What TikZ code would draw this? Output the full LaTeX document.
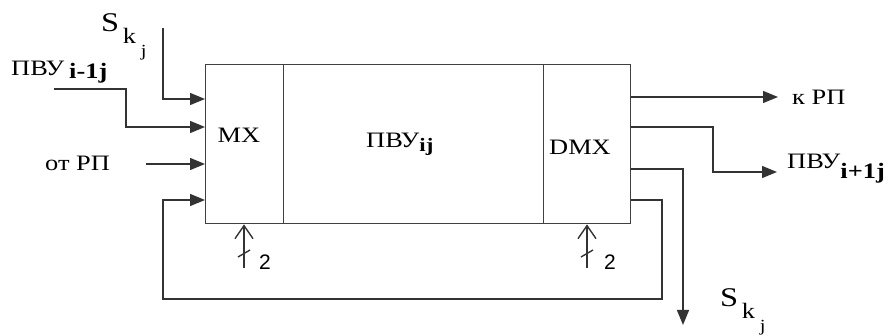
\documentclass[tikz,border=0pt]{standalone}
\usepackage{fontspec}
\setmainfont{Liberation Serif}
\newfontfamily\digitfont{Liberation Sans}
\usepackage{graphicx}
\usetikzlibrary{arrows.meta}

% letters in this scheme are set wide
\newcommand{\wtxt}[1]{\scalebox{1.2}[1]{#1}}
\newcommand{\skjlabel}{\wtxt{\fontsize{27}{27}\selectfont S\hspace{3pt}\raisebox{-12pt}{\fontsize{22}{22}\selectfont k\hspace{4pt}\raisebox{-13pt}{\fontsize{17}{17}\selectfont j}}}}

\begin{document}
\begin{tikzpicture}[x=1pt,y=-1pt,
  wire/.style={line width=1.4pt, draw=black!80},
  arr/.style={wire, -{Triangle[length=15pt,width=12pt]}},
  barb/.style={wire, -{Straight Barb[length=13pt,width=18pt]}},
  blk/.style={draw=black!75, line width=1.4pt, rectangle, inner sep=0pt,
              minimum height=159pt, anchor=north west},
  lbl/.style={inner sep=0pt, font=\fontsize{22}{22}\selectfont, anchor=base west},
  digit/.style={inner sep=0pt, font=\digitfont\fontsize{21}{21}\selectfont, anchor=base west},
]
\useasboundingbox (0,0) rectangle (895,336);

% the three blocks: multiplexer, processing unit, demultiplexer
\node[blk, minimum width=78pt]  (mx)   at (205,64) {};
\node[blk, minimum width=260pt] (core) at (283,64) {};
\node[blk, minimum width=87pt]  (dmx)  at (543,64) {};

\node[lbl, anchor=base] (mxl) at (239,143) {\wtxt{МХ}};
\node[lbl] (corel) at (366,148) {\wtxt{ПВУ\raisebox{-4pt}{\fontsize{19}{19}\selectfont\textbf{ij}}}};
\node[lbl] (dmxl) at (549,155) {\wtxt{DMX}};

% inputs of the multiplexer
\coordinate (skin) at (163,28);
\draw[arr] (skin) |- (mx.west |- 0,99);
\node[lbl] (sktop) at (101,32) {\skjlabel};

\coordinate (pvuin) at (54,89);
\draw[arr] (pvuin) -| (126,127) -- (mx.west |- 0,127);
\node[lbl] (pvuinl) at (11,76) {\wtxt{ПВУ\hspace{4pt}\raisebox{-3pt}{\textbf{i-1j}}}};

\coordinate (rpin) at (146,164);
\draw[arr] (rpin) -- (mx.west |- rpin);
\node[lbl] (rpinl) at (45,171) {\wtxt{от РП}};

% feedback loop from the demultiplexer back to the multiplexer
\draw[arr] (dmx.east |- 0,200) -- (662,200) -- (662,299) -- (163,299) -- (163,200) -- (mx.west |- 0,200);

% outputs of the demultiplexer
\coordinate (rpout) at (778,97);
\draw[arr] (dmx.east |- rpout) -- (rpout);
\node[lbl] (rpoutl) at (792,105) {\wtxt{к РП}};

\coordinate (pvuout) at (777,172);
\draw[arr] (dmx.east |- 0,127) -| (713,172) -- (pvuout);
\node[lbl] (pvuoutl) at (787,169) {\wtxt{ПВУ\raisebox{-10pt}{\textbf{i+1j}}}};

\coordinate (skout) at (683,325);
\draw[arr] (dmx.east |- 0,169) -| (skout);
\node[lbl] (skbot) at (720,307) {\skjlabel};

% two-wire control buses
\coordinate (ctlA) at (244,268);
\draw[barb] (ctlA) -- (mx.south -| ctlA);
\draw[wire] (238,257) -- (250,250);
\node[digit] (twoA) at (259,270) {2};

\coordinate (ctlB) at (587,268);
\draw[barb] (ctlB) -- (dmx.south -| ctlB);
\draw[wire] (581,257) -- (593,250);
\node[digit] (twoB) at (604,270) {2};
\end{tikzpicture}
\end{document}
